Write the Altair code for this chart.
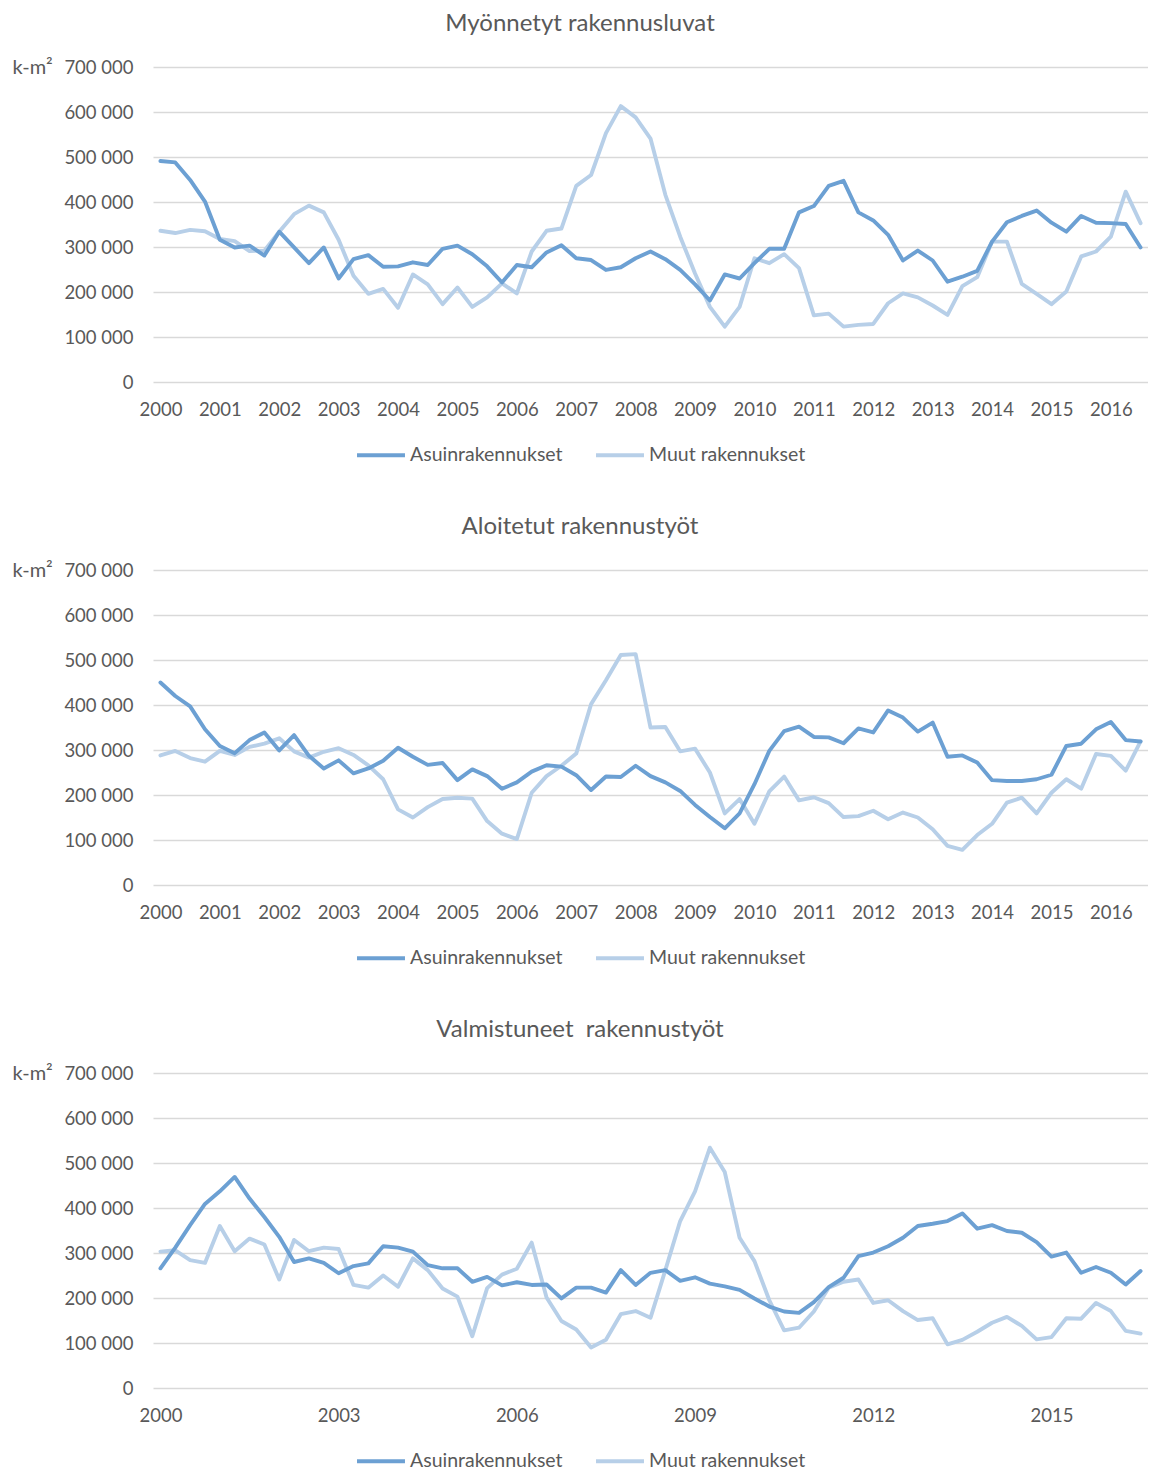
import altair as alt
import pandas as pd

YEARS = list(range(2000, 2017))
PERIODS = [f"{y}Q{q}" for y in YEARS for q in (1, 2, 3, 4)][:67]
SERIES = ["Asuinrakennukset", "Muut rakennukset"]
COLORS = ["#6CA0D3", "#B7CFE8"]
TITLES = ["Myönnetyt rakennusluvat", "Aloitetut rakennustyöt", "Valmistuneet\u00a0 rakennustyöt"]
Y_TICKS = [0, 100000, 200000, 300000, 400000, 500000, 600000, 700000]
X_TICKS_A = ["2000", "2001", "2002", "2003", "2004", "2005", "2006", "2007", "2008",
             "2009", "2010", "2011", "2012", "2013", "2014", "2015", "2016"]
X_TICKS_B = ["2000", "2003", "2006", "2009", "2012", "2015"]

# Myönnetyt rakennusluvat
P1_ASUIN = [491000, 488000, 449000, 401000, 316000, 299000, 303000, 281000, 334000, 299000,
            264000, 299000, 230000, 273000, 282000, 256000, 257000, 266000, 260000, 296000,
            303000, 284000, 257000, 221000, 260000, 255000, 288000, 304000, 275000, 271000,
            249000, 255000, 275000, 290000, 273000, 249000, 217000, 181000, 239000, 230000,
            264000, 296000, 296000, 377000, 391000, 436000, 447000, 377000, 359000, 327000,
            270000, 292000, 270000, 223000, 234000, 247000, 312000, 355000, 369000, 381000,
            354000, 334000, 369000, 354000, 353000, 351000, 299000]
P1_MUUT = [336000, 331000, 338000, 335000, 318000, 313000, 291000, 292000, 334000, 373000,
           392000, 377000, 316000, 236000, 196000, 207000, 165000, 239000, 217000, 173000,
           210000, 167000, 188000, 219000, 197000, 290000, 336000, 341000, 436000, 460000,
           553000, 613000, 588000, 541000, 416000, 323000, 241000, 167000, 123000, 167000,
           275000, 264000, 284000, 253000, 148000, 152000, 123000, 127000, 129000, 175000,
           197000, 188000, 170000, 149000, 213000, 233000, 312000, 312000, 218000, 196000,
           173000, 201000, 279000, 290000, 323000, 423000, 353000]

# Aloitetut rakennustyöt
P2_ASUIN = [450000, 420000, 397000, 346000, 309000, 293000, 322000, 339000, 299000, 333000,
            287000, 259000, 277000, 248000, 259000, 276000, 305000, 285000, 267000, 271000,
            233000, 257000, 242000, 214000, 228000, 252000, 266000, 263000, 244000, 211000,
            241000, 240000, 265000, 242000, 228000, 209000, 178000, 151000, 126000, 159000,
            224000, 298000, 342000, 352000, 329000, 328000, 315000, 348000, 339000, 388000,
            372000, 341000, 361000, 285000, 288000, 272000, 233000, 231000, 231000, 235000,
            245000, 309000, 314000, 346000, 362000, 322000, 319000]
P2_MUUT = [288000, 298000, 282000, 274000, 298000, 289000, 307000, 314000, 326000, 297000,
           283000, 296000, 304000, 289000, 266000, 235000, 168000, 150000, 173000, 191000,
           194000, 192000, 142000, 114000, 102000, 205000, 242000, 265000, 292000, 402000,
           455000, 511000, 513000, 350000, 351000, 297000, 303000, 250000, 159000, 191000,
           136000, 208000, 241000, 188000, 195000, 182000, 151000, 153000, 165000, 146000,
           161000, 150000, 124000, 87000, 78000, 111000, 136000, 183000, 194000, 159000,
           205000, 235000, 214000, 291000, 287000, 254000, 319000]

# Valmistuneet rakennustyöt
P3_ASUIN = [266000, 312000, 362000, 409000, 437000, 469000, 421000, 380000, 336000, 280000,
            288000, 278000, 255000, 271000, 277000, 315000, 312000, 303000, 273000, 266000,
            266000, 236000, 247000, 228000, 235000, 229000, 230000, 199000, 223000, 223000,
            212000, 262000, 229000, 256000, 262000, 238000, 246000, 232000, 226000, 218000,
            199000, 181000, 170000, 167000, 191000, 224000, 245000, 293000, 301000, 315000,
            334000, 360000, 365000, 371000, 388000, 354000, 362000, 349000, 345000, 324000,
            292000, 301000, 256000, 269000, 256000, 230000, 260000]
P3_MUUT = [303000, 306000, 284000, 278000, 360000, 304000, 332000, 319000, 241000, 329000,
           304000, 312000, 309000, 229000, 223000, 250000, 225000, 288000, 262000, 221000,
           203000, 115000, 222000, 252000, 265000, 323000, 201000, 149000, 130000, 90000,
           107000, 164000, 171000, 156000, 262000, 371000, 437000, 534000, 480000, 334000,
           282000, 195000, 128000, 134000, 170000, 223000, 236000, 241000, 189000, 195000,
           171000, 151000, 155000, 97000, 107000, 125000, 145000, 158000, 138000, 108000,
           113000, 155000, 154000, 189000, 171000, 127000, 121000]

FONT = "Lato"
TXT = "#595959"
W, H = 995, 315


def panel(title, asuin, muut, xticks):
    df = pd.DataFrame({
        "period": PERIODS + PERIODS,
        "value": asuin + muut,
        "series": [SERIES[0]] * len(asuin) + [SERIES[1]] * len(muut),
    })
    base = alt.Chart(df).mark_line(strokeWidth=3.9, strokeJoin="round", strokeCap="round").encode(
        x=alt.X("period:O", sort=PERIODS,
                scale=alt.Scale(type="point", padding=0.5),
                axis=alt.Axis(values=[t + "Q1" for t in xticks],
                              labelExpr="slice(datum.value, 0, 4)",
                              labelAngle=0, ticks=False, domain=False, grid=False,
                              labelPadding=18, title=None)),
        y=alt.Y("value:Q", scale=alt.Scale(domain=[0, 700000], nice=False),
                axis=alt.Axis(values=Y_TICKS,
                              labelExpr="datum.value == 0 ? '0' : format(datum.value / 1000, 'd') + ' 000'",
                              ticks=False, domain=False, grid=True, labelPadding=20,
                              title="k-m²", titleAngle=0, titleAlign="left",
                              titleBaseline="middle", titleX=-141, titleY=0,
                              titleFontSize=20, titleFontWeight="normal")),
        color=alt.Color("series:N", scale=alt.Scale(domain=SERIES, range=COLORS),
                        legend=alt.Legend(title=None, orient="none", direction="horizontal",
                                          legendX=202, legendY=362, symbolType="stroke",
                                          symbolStrokeWidth=4, symbolSize=2300,
                                          columnPadding=25, labelOffset=3)),
    )
    muut_layer = base.transform_filter(alt.datum.series == SERIES[1])
    asuin_layer = base.transform_filter(alt.datum.series == SERIES[0])
    return alt.layer(muut_layer, asuin_layer).properties(
        width=W, height=H,
        title=alt.TitleParams(title, anchor="middle", frame="bounds", offset=21),
    )


chart = alt.vconcat(
    panel(TITLES[0], P1_ASUIN, P1_MUUT, X_TICKS_A),
    panel(TITLES[1], P2_ASUIN, P2_MUUT, X_TICKS_A),
    panel(TITLES[2], P3_ASUIN, P3_MUUT, X_TICKS_B),
    spacing=50,
).resolve_scale(color="independent").configure(
    padding={"left": 4, "top": 4, "right": 0, "bottom": 0},
    font=FONT,
).configure_view(stroke=None).configure_axis(
    labelFont=FONT, labelFontSize=18.5, labelColor=TXT,
    titleFont=FONT, titleFontSize=18.5, titleColor=TXT,
    gridColor="#D9D9D9", gridWidth=1.3,
).configure_title(
    font=FONT, fontSize=24, fontWeight="normal", color=TXT,
).configure_legend(
    labelFont=FONT, labelFontSize=19.5, labelColor=TXT,
)

chart.save("out.html", embed_options={"renderer": "svg", "actions": False})
